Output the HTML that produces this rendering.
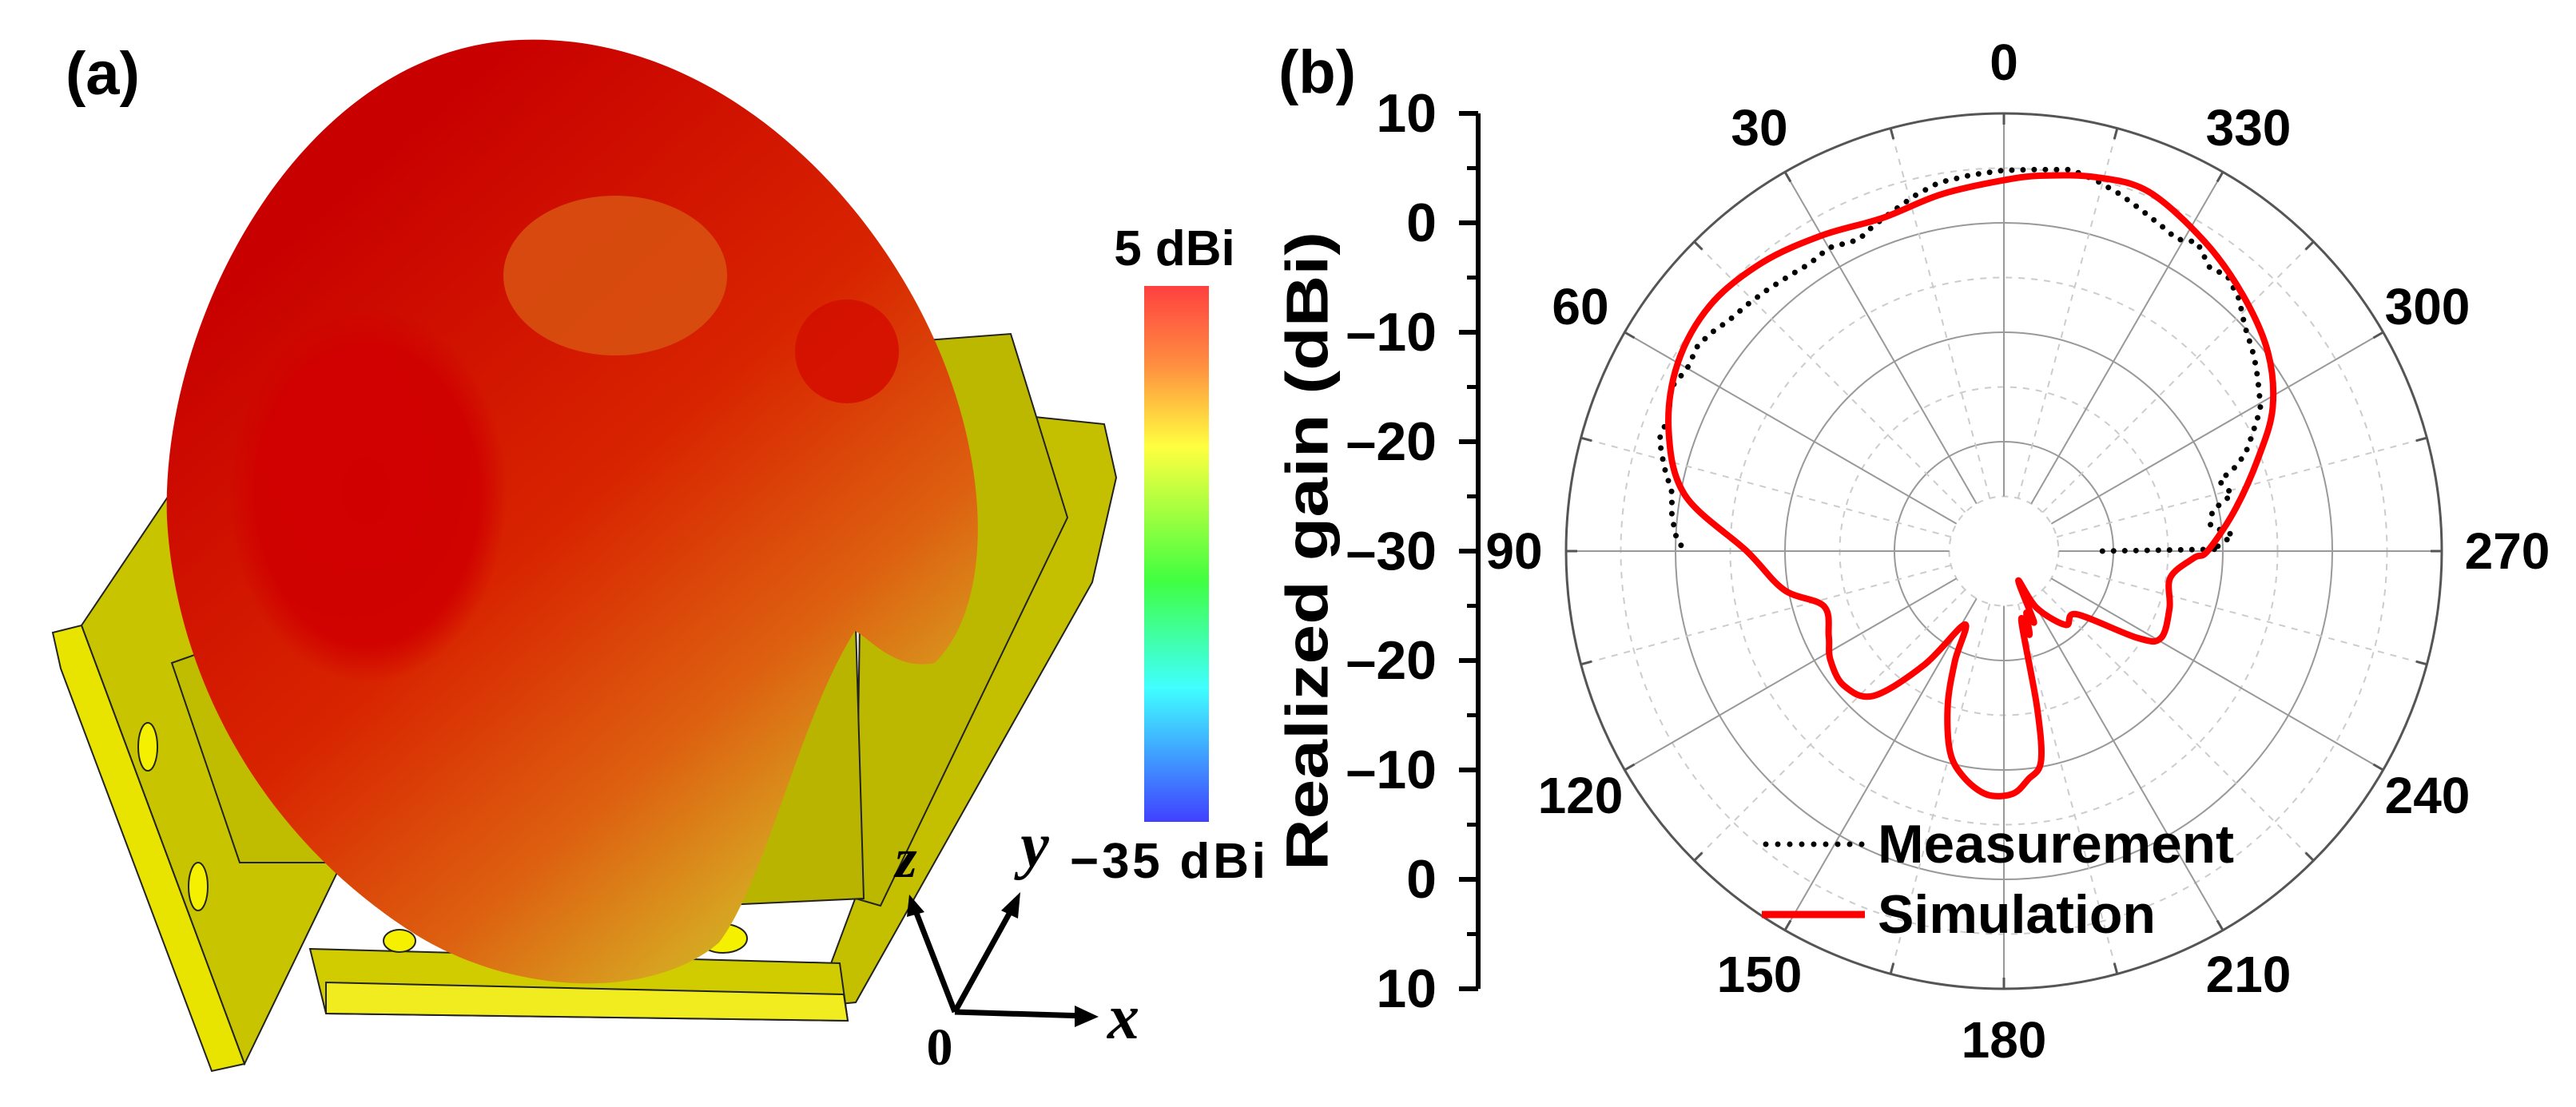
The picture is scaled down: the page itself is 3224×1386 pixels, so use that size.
<!DOCTYPE html>
<html><head><meta charset="utf-8">
<style>
html,body{margin:0;padding:0;background:#fff;}
svg{display:block;}
text{font-family:"Liberation Sans",Arial,sans-serif;font-weight:bold;fill:#000;}
</style></head>
<body>
<svg id="fig" width="3224" height="1386" viewBox="0 0 3224 1386" xmlns="http://www.w3.org/2000/svg">
<defs>
<linearGradient id="blobGrad" x1="0.15" y1="0.2" x2="0.75" y2="1">
<stop offset="0" stop-color="#c80000"/>
<stop offset="0.45" stop-color="#d82400"/>
<stop offset="0.72" stop-color="#dd6010"/>
<stop offset="0.9" stop-color="#d8a020"/>
<stop offset="1" stop-color="#c8c020"/>
</linearGradient>
<linearGradient id="cbar" x1="0" y1="0" x2="0" y2="1">
<stop offset="0" stop-color="#ff4040"/>
<stop offset="0.15" stop-color="#ff9040"/>
<stop offset="0.3" stop-color="#ffff40"/>
<stop offset="0.55" stop-color="#40ff40"/>
<stop offset="0.75" stop-color="#40ffff"/>
<stop offset="1" stop-color="#4040ff"/>
</linearGradient>
<radialGradient id="darkCore" cx="0.5" cy="0.5" r="0.5">
<stop offset="0" stop-color="#d00000"/>
<stop offset="0.8" stop-color="#d00000" stop-opacity="0.9"/>
<stop offset="1" stop-color="#d00000" stop-opacity="0"/>
</radialGradient>
</defs>

<g>
<text x="82" y="118" font-size="76">(a)</text>
<g stroke="#222" stroke-width="2">
<polygon points="102,783 235,585 428,1080 306,1332" fill="#c8c400"/>
<polygon points="66,792 102,783 306,1332 265,1341 76,837" fill="#e8e400"/>
<polygon points="1295,522 1382,531 1397,598 1367,729 1071,1255 1020,1260" fill="#c4c000"/>
<polygon points="1081,432 1265,418 1336,648 1102,1134 1071,1125" fill="#bcb800"/>
<polygon points="388,1188 1051,1206 1061,1278 408,1269" fill="#d0cc00"/>
<polygon points="408,1230 1056,1245 1061,1278 408,1269" fill="#f0ec20"/>
<polygon points="898,900 1071,783 1081,1125 887,1134" fill="#b8b400"/>
<polygon points="215,830 300,800 410,1080 300,1080" fill="#c0bc00"/>
<ellipse cx="185" cy="935" rx="12" ry="30" fill="#f4f000"/>
<ellipse cx="248" cy="1110" rx="12" ry="30" fill="#f4f000"/>
<ellipse cx="905" cy="1175" rx="30" ry="18" fill="#f4f000"/>
<ellipse cx="500" cy="1178" rx="20" ry="14" fill="#f4f000"/>
</g>
<g>
<path d="M 650 50 C 900 40, 1100 250, 1180 450 C 1240 600, 1240 760, 1170 830 C 1120 840, 1090 800, 1070 790 C 1000 900, 960 1100, 900 1180 C 820 1250, 650 1250, 520 1170 C 330 1050, 220 850, 209 650 C 200 400, 380 60, 650 50 Z" fill="url(#blobGrad)"/>
<ellipse cx="460" cy="620" rx="175" ry="235" fill="url(#darkCore)"/>
<ellipse cx="770" cy="345" rx="140" ry="100" fill="#d85410" opacity="0.85"/>
<ellipse cx="1060" cy="440" rx="65" ry="65" fill="#d41000" opacity="0.9"/>
</g>
<rect x="1432" y="358" width="81" height="671" fill="url(#cbar)"/>
<text x="1470" y="332" font-size="62" text-anchor="middle">5 dBi</text>
<text x="1339" y="1099" font-size="62" textLength="245">−35 dBi</text>
<g stroke="#000" stroke-width="7" fill="#000">
<line x1="1195" y1="1267" x2="1358" y2="1272"/>
<polygon points="1375,1273 1345,1259 1345,1286" stroke="none"/>
<line x1="1195" y1="1267" x2="1268" y2="1135"/>
<polygon points="1277,1117 1253,1140 1274,1150" stroke="none"/>
<line x1="1195" y1="1267" x2="1145" y2="1138"/>
<polygon points="1138,1120 1135,1148 1157,1142" stroke="none"/>
</g>
<text x="1134" y="1098" font-size="70" font-style="italic" text-anchor="middle" style="font-family:'Liberation Serif',serif">z</text>
<text x="1295" y="1085" font-size="80" font-style="italic" text-anchor="middle" style="font-family:'Liberation Serif',serif">y</text>
<text x="1406" y="1300" font-size="80" font-style="italic" text-anchor="middle" style="font-family:'Liberation Serif',serif">x</text>
<text x="1176" y="1333" font-size="66" text-anchor="middle" style="font-family:'Liberation Serif',serif">0</text>
</g>

<g>
<text x="1600" y="116" font-size="76">(b)</text>
<g id="grid"></g>
<g id="yaxis"></g>
<g id="alabels"></g>
<g id="series"></g>
<text transform="translate(1636,690) rotate(-90)" font-size="74" text-anchor="middle" dominant-baseline="central" textLength="800" lengthAdjust="spacingAndGlyphs">Realized gain (dBi)</text>
<g>
<line x1="2210" y1="1057" x2="2334" y2="1057" stroke="#000" stroke-width="7" stroke-linecap="round" stroke-dasharray="0 15"/>
<text x="2350" y="1080" font-size="68" textLength="446" lengthAdjust="spacingAndGlyphs">Measurement</text>
<line x1="2205" y1="1145" x2="2334" y2="1145" stroke="#f00" stroke-width="9"/>
<text x="2350" y="1168" font-size="68" textLength="348" lengthAdjust="spacingAndGlyphs">Simulation</text>
</g>
</g>
</svg>
<script>
const angleTicks = [0,30,60,90,120,150,180,210,240,270,300,330];
const radialTicks = [10,0,-10,-20,-30,-20,-10,0,10];
const simAngles = [0,10,20,30,40,50,60,70,80,90,100,107,116,122,130,138,145,152,156,160,165,170,176,182,186,190,192,194,197,200,203,206,210,220,229,237,241,251,261,268,270,280,290,298,307,317,327,338,346,354];
const simValues = [3.9,3.1,2.4,3.3,4.4,5.0,4.4,2.6,-0.4,-6.5,-9.6,-12.8,-12.2,-11.3,-10.9,-12.2,-17.3,-22.4,-19,-15,-11,-9,-7.7,-7.8,-9,-10.5,-15.5,-23.4,-22,-24,-23,-27,-24,-21.2,-21.2,-15.4,-13.6,-14,-14.6,-12.6,-11.4,-8.6,-5.3,-2.2,0.2,2.0,3.7,5.4,5.2,4.5];
const measAngles = [270,270.5,271,274,277,281,284,288,290,292,295,299,302,306,309,313,317,321,324,328,331,334,338,342,346,350,355,0,5,10,14,18,22,25,30,34,38,42,46,50,53,56,60,64,68,72,76,80,84,88,90];
const measValues = [-21,-10.3,-10.6,-9,-11,-10.6,-8.5,-9.3,-7.5,-6.2,-5,-3.2,-2.5,-1.5,-0.8,0.1,1.5,2.4,2.0,3.3,2.6,3.0,3.6,4.3,4.9,5.4,5.0,4.8,4.5,4.2,3.5,2.7,2.0,1.4,2.0,1.7,1.9,2.2,2.5,2.8,3.3,3.7,3.4,3.9,3.0,3.1,2.0,0.8,0.5,-0.1,-0.9];

const NS = 'http://www.w3.org/2000/svg';
const cx = 2508, cy = 690, R = 548, vMin = -30, vMax = 10;
function rScale(v){ return Math.max(0, (v - vMin) / (vMax - vMin) * R); }
function px(theta, r){ return cx - r * Math.sin(theta * Math.PI / 180); }
function py(theta, r){ return cy - r * Math.cos(theta * Math.PI / 180); }
function mk(tag, attrs, parent){ const e = document.createElementNS(NS, tag); for (const k in attrs) e.setAttribute(k, attrs[k]); parent.appendChild(e); return e; }

const grid = document.getElementById('grid');
for (let v = -25; v <= 10; v += 5) {
  const solid = (v % 10 === 0);
  const c = mk('circle', {cx: cx, cy: cy, r: rScale(v), fill: 'none', stroke: v === 10 ? '#555' : (solid ? '#999' : '#ccc'), 'stroke-width': v === 10 ? 3 : 2, 'stroke-dasharray': solid ? 'none' : '8 8'}, grid);
  
  
}
for (let a = 0; a < 360; a += 15) {
  const solid = (a % 30 === 0);
  const r0 = rScale(-25);
  const l = mk('line', {x1: px(a, r0), y1: py(a, r0), x2: px(a, R), y2: py(a, R), stroke: solid ? '#999' : '#ccc', 'stroke-width': 2, 'stroke-dasharray': solid ? 'none' : '8 8'}, grid);
  
  
}
for (let a = 0; a < 360; a += 15) {
  const t = mk('line', {x1: px(a, R - 14), y1: py(a, R - 14), x2: px(a, R), y2: py(a, R), stroke: '#555', 'stroke-width': 3}, grid);
  
  
}
const al = document.getElementById('alabels');
angleTicks.forEach(function(a){
  const rr = a === 90 ? 613 : (a === 270 ? 630 : 612);
  const t = mk('text', {x: px(a, rr), y: py(a, rr), 'font-size': 64, 'text-anchor': 'middle', 'dominant-baseline': 'central'}, al);
  t.textContent = String(a);
  
  
});
const ya = document.getElementById('yaxis');
const axX = 1850, yTop = cy - R, yBot = cy + R;
const ax = mk('line', {x1: axX, y1: yTop, x2: axX, y2: yBot, stroke: '#000', 'stroke-width': 6}, ya);


const step = (yBot - yTop) / (radialTicks.length - 1);
radialTicks.forEach(function(v, i){
  const y = yTop + i * step;
  const tk = mk('line', {x1: axX - 24, y1: y, x2: axX, y2: y, stroke: '#000', 'stroke-width': 6}, ya);
  
  
  if (i < radialTicks.length - 1) {
    const mn = mk('line', {x1: axX - 14, y1: y + step / 2, x2: axX, y2: y + step / 2, stroke: '#000', 'stroke-width': 5}, ya);
    
    
  }
  const t = mk('text', {x: axX - 52, y: y, 'font-size': 68, 'text-anchor': 'end', 'dominant-baseline': 'central'}, ya);
  t.textContent = v < 0 ? '\u2013' + Math.abs(v) : String(v);
  
  
});
const sg = document.getElementById('series');
function pts(angles, vals){ return angles.map(function(a, i){ const r = rScale(vals[i]); return [px(a, r), py(a, r)]; }); }
function smoothPath(p, closed){
  const n = p.length; let d = 'M ' + p[0][0].toFixed(1) + ' ' + p[0][1].toFixed(1);
  const get = function(i){ if (closed) return p[(i + n) % n]; return p[Math.max(0, Math.min(n - 1, i))]; };
  const last = closed ? n : n - 1;
  for (let i = 0; i < last; i++) {
    const p0 = get(i - 1), p1 = get(i), p2 = get(i + 1), p3 = get(i + 2);
    const c1x = p1[0] + (p2[0] - p0[0]) / 6, c1y = p1[1] + (p2[1] - p0[1]) / 6;
    const c2x = p2[0] - (p3[0] - p1[0]) / 6, c2y = p2[1] - (p3[1] - p1[1]) / 6;
    d += ' C ' + c1x.toFixed(1) + ' ' + c1y.toFixed(1) + ', ' + c2x.toFixed(1) + ' ' + c2y.toFixed(1) + ', ' + p2[0].toFixed(1) + ' ' + p2[1].toFixed(1);
  }
  return d + (closed ? ' Z' : '');
}
function linePath(p){ return p.map(function(q, i){ return (i ? 'L ' : 'M ') + q[0].toFixed(1) + ' ' + q[1].toFixed(1); }).join(' '); }
const mp = mk('path', {d: linePath(pts(measAngles, measValues)), fill: 'none', stroke: '#000', 'stroke-width': 7, 'stroke-linecap': 'round', 'stroke-dasharray': '0 14'}, sg);


const sp = mk('path', {d: smoothPath(pts(simAngles, simValues), true), fill: 'none', stroke: '#f00', 'stroke-width': 8, 'stroke-linejoin': 'round'}, sg);


</script>
</body></html>
